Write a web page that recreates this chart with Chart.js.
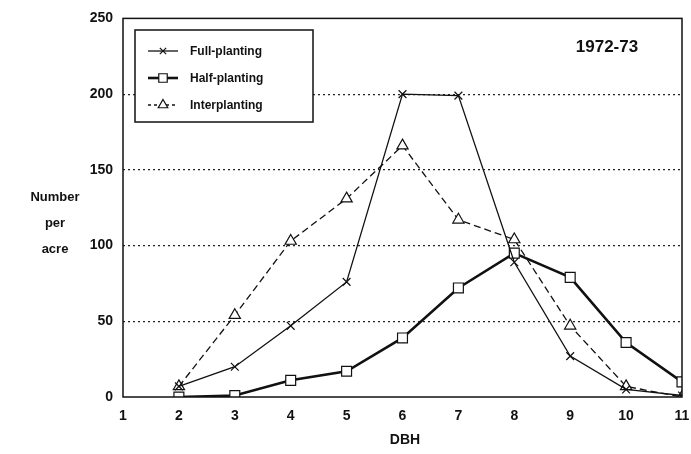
<!DOCTYPE html>
<html>
<head>
<meta charset="utf-8">
<style>
  html, body { margin: 0; padding: 0; background: #fff; }
  #wrap { width: 691px; height: 454px; }
</style>
<script src="https://cdn.jsdelivr.net/npm/chart.js@4/dist/chart.umd.min.js"></script>
</head>
<body>
<div id="wrap"><canvas id="dbh" width="691" height="454"></canvas></div>
<script>
// DBH distribution, 1972-73
const dbhClasses = [1, 2, 3, 4, 5, 6, 7, 8, 9, 10, 11];
const fullPlanting = [null, 7, 20, 47, 76, 200, 199, 89, 27, 5, 1];
const halfPlanting = [null, 0, 1, 11, 17, 39, 72, 95, 79, 36, 10];
const interPlanting = [null, 7, 54, 103, 131, 166, 117, 104, 47, 7, 0];
const yTicks = [0, 50, 100, 150, 200, 250];
const yLabelLines = ["Number", "per", "acre"];
const panelTitle = "1972-73";

const FONT = "'Liberation Sans', Arial, sans-serif";

const toPoints = (vals) => dbhClasses.map((x, i) => ({ x, y: vals[i] })).filter((p) => p.y !== null);

const seriesStyle = [
  { label: "Full-planting", data: fullPlanting, width: 1.3, dash: [], marker: "crossRot", radius: 5.5 },
  { label: "Half-planting", data: halfPlanting, width: 2.6, dash: [], marker: "rect", radius: 7 },
  { label: "Interplanting", data: interPlanting, width: 1.3, dash: [7, 4], marker: "triangle", radius: 6.5 },
];

// frame, legend box, panel title, y title, x title
const decorations = {
  id: "decorations",
  afterDraw(chart) {
    const { ctx, chartArea: a } = chart;
    ctx.save();
    ctx.strokeStyle = "#111";
    ctx.lineWidth = 1.5;
    ctx.setLineDash([]);
    ctx.strokeRect(a.left, a.top, a.right - a.left, a.bottom - a.top);

    // legend
    const bx = 135, by = 30, bw = 178, bh = 92;
    ctx.fillStyle = "#fff";
    ctx.fillRect(bx, by, bw, bh);
    ctx.lineWidth = 1.5;
    ctx.strokeRect(bx, by, bw, bh);
    seriesStyle.forEach((s, i) => {
      const y = 51 + i * 27;
      ctx.strokeStyle = "#111";
      ctx.lineWidth = s.width;
      ctx.setLineDash(s.dash.length ? [3, 3] : []);
      ctx.beginPath();
      ctx.moveTo(148, y);
      ctx.lineTo(178, y);
      ctx.stroke();
      ctx.setLineDash([]);
      ctx.lineWidth = 1.2;
      ctx.fillStyle = "#fff";
      Chart.helpers.drawPoint(ctx, { pointStyle: s.marker, radius: s.radius - 1, borderWidth: 1.2 }, 163, y);
      ctx.fillStyle = "#111";
      ctx.font = "bold 12px " + FONT;
      ctx.textAlign = "left";
      ctx.textBaseline = "middle";
      ctx.fillText(s.label, 190, y + 1);
    });

    ctx.fillStyle = "#111";
    ctx.font = "bold 17px " + FONT;
    ctx.textAlign = "center";
    ctx.textBaseline = "middle";
    ctx.fillText(panelTitle, 607, 47);

    ctx.font = "bold 13px " + FONT;
    yLabelLines.forEach((t, i) => ctx.fillText(t, 55, 197 + i * 26));

    ctx.font = "bold 14px " + FONT;
    ctx.fillText("DBH", 405, 440);
    ctx.restore();
  },
};

new Chart(document.getElementById("dbh"), {
  type: "line",
  data: {
    datasets: seriesStyle.map((s) => ({
      label: s.label,
      data: toPoints(s.data),
      borderColor: "#111",
      borderWidth: s.width,
      borderDash: s.dash,
      pointStyle: s.marker,
      pointRadius: s.radius,
      pointBorderWidth: 1.2,
      pointBorderColor: "#111",
      pointBackgroundColor: "#fff",
      tension: 0,
    })),
  },
  options: {
    responsive: false,
    animation: false,
    layout: { padding: { top: 18, right: 9, left: 0, bottom: 0 } },
    plugins: { legend: { display: false }, tooltip: { enabled: false } },
    scales: {
      x: {
        type: "linear",
        min: 1,
        max: 11,
        afterFit: (s) => { s.height = 57; s.paddingLeft = 0; s.paddingRight = 0; },
        ticks: { stepSize: 1, color: "#111", padding: 3, font: { family: FONT, size: 14, weight: "bold" } },
        grid: { display: false },
        border: { display: false },
      },
      y: {
        min: 0,
        max: 250,
        afterFit: (s) => { s.width = 123; },
        afterBuildTicks: (s) => { s.ticks = yTicks.map((v) => ({ value: v })); },
        ticks: { color: "#111", padding: 10, font: { family: FONT, size: 14, weight: "bold" } },
        grid: {
          drawTicks: false,
          lineWidth: 1.2,
          color: (c) => (c.tick && c.tick.value > 0 && c.tick.value < 250 ? "#222" : "rgba(0,0,0,0)"),
        },
        border: { display: false, dash: [2, 3] },
      },
    },
  },
  plugins: [decorations],
});
</script>
</body>
</html>
